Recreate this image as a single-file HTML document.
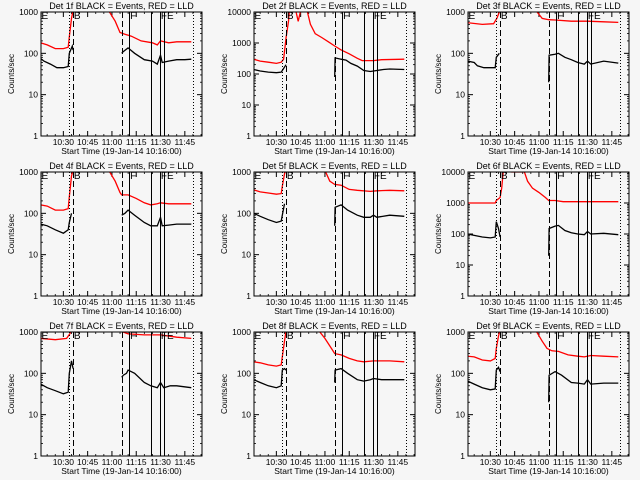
<!DOCTYPE html>
<html><head><meta charset="utf-8"><style>
body{margin:0;background:#f6f6f6}
svg{display:block}
text{font-family:"Liberation Sans",sans-serif;fill:#000}
</style></head><body>
<svg id="c" width="640" height="480" viewBox="0 0 640 480" xmlns="http://www.w3.org/2000/svg">
<rect width="640" height="480" fill="#f6f6f6"/>
</svg>
<script>
const detNames = ["1f","2f","3f","4f","5f","6f","7f","8f","9f"];
const yDecades = [3,4,3,3,3,4,3,3,3];
const xTickMinutes = [30,45,60,75,90,105];
const xTickLabels = ["10:30","10:45","11:00","11:15","11:30","11:45"];
const markerTimes = [33.7,36.2,66.0,70.8,83.9,89.9,92.4,110.3];
const markerStyles = ["dot","dash","dash","solid","solid","solid","solid","dot"];
const eventLabels = ["E","B","F","FE"];
const eventLabelTimes = [16.5,36.5,71.2,90.2];
const blackSeries = [
 [[16,75],[18,65],[22,55],[26,45],[30,45],[33,48],[33.7,100],[35.5,150],[36,120],null,[66,100],[67,110],[70,135],[74,100],[80,70],[85,65],[88,55],[90,90],[91,60],[95,65],[100,70],[105,70],[109,72]],
 [[16,140],[20,125],[25,115],[30,110],[33,115],[33.7,130],[36,200],null,[66,80],[66.3,330],[70,300],[73,280],[76,220],[80,180],[84,130],[88,120],[92,130],[96,140],[100,145],[109,140]],
 [[16,65],[20,60],[22,50],[26,45],[30,45],[33,45],[33.7,80],[35.5,100],null,[66,20],[66.3,90],[70,95],[72,100],[76,80],[80,70],[84,60],[88,55],[90,65],[92,55],[100,65],[109,58]],
 [[16,55],[20,50],[25,40],[30,33],[33,40],[33.7,60],[35,100],null,[66,90],[68,100],[70,120],[74,90],[80,60],[84,50],[88,50],[90,80],[91,50],[95,52],[100,55],[109,55]],
 [[16,100],[20,85],[25,70],[30,60],[33,65],[33.7,90],[35,170],null,[66,50],[66.3,140],[70,160],[74,120],[80,90],[84,80],[88,80],[90,90],[92,80],[100,90],[109,85]],
 [[16,100],[20,90],[25,80],[30,75],[33,80],[33.7,250],[35,150],[36,80],null,[66,20],[66.3,150],[70,180],[72,190],[76,130],[80,110],[84,100],[88,95],[90,120],[92,100],[100,105],[109,95]],
 [[16,55],[20,45],[25,38],[30,32],[33,35],[33.7,100],[35,200],[36,130],null,[66,80],[67,90],[69,100],[70,120],[74,100],[80,60],[84,50],[88,45],[90,60],[92,45],[96,50],[100,50],[109,45]],
 [[16,70],[20,60],[25,50],[30,45],[33,50],[33.7,120],[35,130],[36,120],null,[66,60],[66.3,120],[70,130],[74,100],[80,70],[84,65],[88,70],[90,75],[95,70],[100,70],[109,70]],
 [[16,65],[20,55],[25,45],[30,40],[33,42],[33.7,120],[35,140],[36,110],null,[66,20],[66.3,90],[70,110],[74,90],[80,60],[84,58],[88,55],[90,70],[92,55],[100,58],[109,58]]
];
const redSeries = [
 [[16,180],[20,160],[25,130],[30,130],[33,140],[33.7,250],[35,700],[36,1100],null,[57.8,1100],[62,600],[65,320],[68,290],[72,260],[78,200],[85,180],[88,160],[90,200],[95,180],[100,190],[109,190]],
 [[16,300],[20,260],[25,240],[30,220],[33,240],[34.5,300],[36,1500],[37.5,5000],[38,11000],[42,11000],[43.5,5000],[45,11000],null,[49,11000],[51,4000],[54,2000],[58,1500],[62,1100],[66,800],[70,600],[75,450],[80,320],[83,270],[90,270],[95,290],[109,300]],
 [[16,550],[25,500],[32,520],[34,700],[36,1100],null,[58,1100],[62,700],[66,650],[70,640],[80,600],[90,600],[100,580],[109,560]],
 [[16,160],[20,150],[25,120],[30,120],[33,130],[33.7,250],[35,800],[36,1100],null,[58,1100],[62,600],[65,320],[66,280],[70,280],[75,230],[80,180],[84,160],[88,170],[90,180],[95,170],[109,170]],
 [[16,370],[20,330],[25,310],[30,290],[33,300],[33.7,450],[35,900],[36,1100],null,[60,1100],[63,600],[66,500],[70,480],[75,380],[80,360],[88,340],[92,350],[100,360],[109,350]],
 [[16,1000],[33,1000],[33.7,1200],[36,1500],[37,3000],[38,11000],[43,10000],[51,10000],[53,5000],[56,3000],[60,2200],[64,1500],[66,1200],[70,1200],[75,1100],[109,1100]],
 [[16,700],[25,650],[32,700],[34,900],[35,1100],null,[64,1100],[70,900],[80,850],[90,850],[100,750],[109,700]],
 [[16,190],[20,180],[25,160],[30,150],[33,160],[33.7,250],[35,600],[36,1100],null,[56,1100],[60,700],[64,400],[66,300],[70,280],[75,230],[80,200],[84,190],[90,200],[100,200],[109,190]],
 [[16,260],[20,250],[25,210],[30,200],[33,230],[33.7,400],[35,800],[36,1100],null,[58,1100],[62,600],[65,400],[68,350],[72,340],[78,280],[84,260],[88,250],[92,270],[100,260],[109,250]]
];
const T0 = 16.2, T1 = 115.6;
const NS = "http://www.w3.org/2000/svg";
const svg = document.getElementById('c');
function mk(tag, attrs, parent){const e=document.createElementNS(NS,tag);for(const k in attrs)e.setAttribute(k,attrs[k]);(parent||svg).appendChild(e);return e;}

for(let p=0;p<9;p++){
  const col=p%3,row=Math.floor(p/3);
  const ox=Math.round(col*213.33), oy=row*160;
  const L=ox+41,R=ox+202,T=oy+12,B=oy+136;
  const dec=yDecades[p];
  const xs=t=>L+(t-T0)/(T1-T0)*(R-L);
  const ys=v=>B-Math.log10(v)/dec*(B-T);
  const g=mk('g',{});
  
  
  const cp=mk('clipPath',{id:'cp'+p},g);
  mk('rect',{x:L,y:T,width:R-L,height:B-T},cp);
  const title=mk('text',{x:(L+R)/2,y:oy+9,'font-size':9,'text-anchor':'middle'},g);
  title.textContent='Det '+detNames[p]+' BLACK = Events, RED = LLD';
  
  
  const yt=mk('text',{x:ox+14,y:(T+B)/2,'font-size':8,'text-anchor':'middle',transform:`rotate(-90 ${ox+14} ${(T+B)/2})`},g);
  yt.textContent='Counts/sec';
  
  
  const xt=mk('text',{x:(L+R)/2,y:oy+154,'font-size':8.5,'text-anchor':'middle'},g);
  xt.textContent='Start Time (19-Jan-14 10:16:00)';
  
  
  for(let d=0;d<=dec;d++){
    const y=ys(Math.pow(10,d));
    mk('line',{x1:L,x2:L+5,y1:y,y2:y,stroke:'#000'},g);
    mk('line',{x1:R,x2:R-5,y1:y,y2:y,stroke:'#000'},g);
    const lb=mk('text',{x:L-3,y:y+3,'font-size':8.5,'text-anchor':'end'},g);
    lb.textContent=String(Math.pow(10,d));
    
    
    if(d<dec){for(let m=2;m<=9;m++){const ym=ys(m*Math.pow(10,d));
      mk('line',{x1:L,x2:L+2,y1:ym,y2:ym,stroke:'#000','stroke-width':0.8},g);
      mk('line',{x1:R,x2:R-2,y1:ym,y2:ym,stroke:'#000','stroke-width':0.8},g);}}
  }
  for(let i=0;i<xTickMinutes.length;i++){
    const x=xs(xTickMinutes[i]);
    mk('line',{x1:x,x2:x,y1:B,y2:B-5,stroke:'#000'},g);
    mk('line',{x1:x,x2:x,y1:T,y2:T+5,stroke:'#000'},g);
    const lb=mk('text',{x:x,y:oy+145,'font-size':8.5,'text-anchor':'middle'},g);
    lb.textContent=xTickLabels[i];
    
    
  }
  for(let m=20;m<=115;m+=5){if(m%15===0)continue;const x=xs(m);
    mk('line',{x1:x,x2:x,y1:B,y2:B-2,stroke:'#000','stroke-width':0.8},g);
    mk('line',{x1:x,x2:x,y1:T,y2:T+2,stroke:'#000','stroke-width':0.8},g);}
  const cg=mk('g',{'clip-path':`url(#cp${p})`},g);
  [[redSeries[p],'#ff0000','lld-series'],[blackSeries[p],'#000','events-series']].forEach(([s,c,n])=>{
    let d='',start=true;
    for(const pt of s){ if(pt===null){start=true;continue;}
      d+=(start?'M':'L')+xs(pt[0]).toFixed(1)+','+ys(pt[1]).toFixed(1)+' '; start=false;}
    const path=mk('path',{d:d,fill:'none',stroke:c,'stroke-width':1.3},cg);
    
    
  });
  for(let i=0;i<markerTimes.length;i++){
    const x=Math.round(xs(markerTimes[i]))+0.5;
    const st=markerStyles[i];
    const ln=mk('line',{x1:x,x2:x,y1:T,y2:B,stroke:'#000','stroke-width':1,
      'stroke-dasharray':st==='dot'?'1,2':(st==='dash'?'6,3':'none')},g);
    
    
  }
  for(let i=0;i<eventLabels.length;i++){
    const lb=mk('text',{x:xs(eventLabelTimes[i]),y:T+7,'font-size':10},g);
    lb.textContent=eventLabels[i];
    
    
  }
  const frame=mk('rect',{x:L,y:T,width:R-L,height:B-T,fill:'none',stroke:'#000','stroke-width':1},g);
  
  
}
</script>
</body></html>
